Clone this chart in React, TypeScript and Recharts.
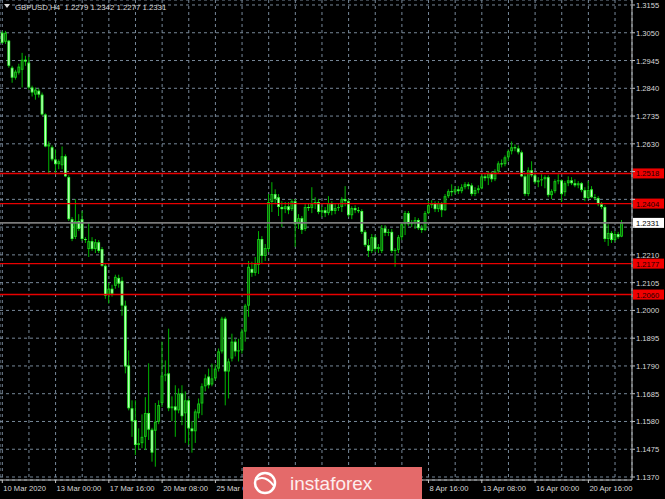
import React from "react";
import { ComposedChart, Bar, XAxis, YAxis, CartesianGrid, ReferenceLine } from "recharts";

// GBPUSD H4 candles, 10 Mar 2020 08:00 onwards
const opens = [
  1.3050, 1.3016, 1.3020, 1.2918, 1.2880, 1.2899, 1.2910, 1.2948, 1.2937, 1.2843,
  1.2816, 1.2831, 1.2816, 1.2741, 1.2620, 1.2617, 1.2571, 1.2553, 1.2549, 1.2583,
  1.2504, 1.2345, 1.2278, 1.2338, 1.2345, 1.2270, 1.2232, 1.2262, 1.2232, 1.2258,
  1.2232, 1.2169, 1.2059, 1.2082, 1.2093, 1.2123, 1.2112, 1.2018, 1.1792, 1.1630,
  1.1585, 1.1491, 1.1498, 1.1522, 1.1612, 1.1549, 1.1545, 1.1579, 1.1650, 1.1754,
  1.1762, 1.1630, 1.1637, 1.1622, 1.1686, 1.1611, 1.1660, 1.1554, 1.1543, 1.1611,
  1.1648, 1.1713, 1.1750, 1.1720, 1.1743, 1.1780, 1.1845, 1.1969, 1.1769, 1.1818,
  1.1882, 1.1845, 1.1849, 1.1920, 1.2018, 1.2157, 1.2142, 1.2172, 1.2270, 1.2206,
  1.2232, 1.2410, 1.2440, 1.2428, 1.2391, 1.2383, 1.2394, 1.2383, 1.2413, 1.2326,
  1.2349, 1.2308, 1.2391, 1.2387, 1.2402, 1.2410, 1.2372, 1.2379, 1.2368, 1.2406,
  1.2376, 1.2387, 1.2391, 1.2421, 1.2413, 1.2360, 1.2387, 1.2379, 1.2376, 1.2297,
  1.2247, 1.2225, 1.2277, 1.2232, 1.2225, 1.2311, 1.2293, 1.2297, 1.2225, 1.2229,
  1.2277, 1.2326, 1.2368, 1.2326, 1.2330, 1.2342, 1.2311, 1.2304, 1.2368, 1.2398,
  1.2406, 1.2383, 1.2406, 1.2379, 1.2432, 1.2451, 1.2447, 1.2458, 1.2451, 1.2466,
  1.2477, 1.2473, 1.2440, 1.2455, 1.2462, 1.2507, 1.2500, 1.2519, 1.2496, 1.2526,
  1.2556, 1.2553, 1.2579, 1.2602, 1.2617, 1.2613, 1.2598, 1.2507, 1.2440, 1.2530,
  1.2511, 1.2485, 1.2492, 1.2496, 1.2504, 1.2436, 1.2451, 1.2489, 1.2492, 1.2447,
  1.2481, 1.2492, 1.2481, 1.2473, 1.2481, 1.2455, 1.2425, 1.2458, 1.2428, 1.2425,
  1.2402, 1.2391, 1.2270, 1.2293, 1.2266, 1.2289, 1.2279,
];
const highs = [
  1.3057, 1.3057, 1.3023, 1.2925, 1.2910, 1.2933, 1.2974, 1.2963, 1.2959, 1.2850,
  1.2843, 1.2839, 1.2824, 1.2745, 1.2639, 1.2624, 1.2609, 1.2571, 1.2620, 1.2590,
  1.2511, 1.2353, 1.2421, 1.2364, 1.2376, 1.2277, 1.2330, 1.2277, 1.2270, 1.2266,
  1.2240, 1.2176, 1.2104, 1.2097, 1.2135, 1.2135, 1.2127, 1.2037, 1.1849, 1.1660,
  1.1660, 1.1554, 1.1607, 1.1672, 1.1800, 1.1556, 1.1650, 1.1660, 1.1882, 1.1811,
  1.1931, 1.1675, 1.1717, 1.1705, 1.1717, 1.1694, 1.1667, 1.1581, 1.1626, 1.1667,
  1.1724, 1.1758, 1.1780, 1.1799, 1.1796, 1.1856, 1.1976, 1.1976, 1.1818, 1.1912,
  1.1893, 1.1893, 1.1931, 1.2025, 1.2187, 1.2184, 1.2202, 1.2300, 1.2281, 1.2251,
  1.2440, 1.2485, 1.2458, 1.2440, 1.2413, 1.2410, 1.2410, 1.2421, 1.2421, 1.2364,
  1.2357, 1.2402, 1.2406, 1.2466, 1.2428, 1.2421, 1.2394, 1.2391, 1.2432, 1.2413,
  1.2402, 1.2406, 1.2428, 1.2470, 1.2421, 1.2394, 1.2398, 1.2391, 1.2383, 1.2304,
  1.2270, 1.2289, 1.2285, 1.2251, 1.2323, 1.2323, 1.2308, 1.2308, 1.2236, 1.2285,
  1.2334, 1.2376, 1.2376, 1.2342, 1.2353, 1.2349, 1.2323, 1.2376, 1.2413, 1.2417,
  1.2413, 1.2413, 1.2410, 1.2440, 1.2458, 1.2477, 1.2470, 1.2470, 1.2477, 1.2485,
  1.2485, 1.2481, 1.2466, 1.2473, 1.2515, 1.2519, 1.2526, 1.2526, 1.2534, 1.2564,
  1.2571, 1.2586, 1.2609, 1.2639, 1.2628, 1.2624, 1.2605, 1.2519, 1.2541, 1.2564,
  1.2522, 1.2504, 1.2515, 1.2511, 1.2511, 1.2458, 1.2496, 1.2515, 1.2496, 1.2489,
  1.2507, 1.2504, 1.2496, 1.2489, 1.2485, 1.2466, 1.2489, 1.2470, 1.2440, 1.2432,
  1.2410, 1.2398, 1.2326, 1.2300, 1.2300, 1.2297, 1.2342,
];
const lows = [
  1.3008, 1.3008, 1.2918, 1.2861, 1.2873, 1.2892, 1.2843, 1.2925, 1.2835, 1.2809,
  1.2797, 1.2805, 1.2737, 1.2617, 1.2515, 1.2564, 1.2515, 1.2534, 1.2534, 1.2504,
  1.2338, 1.2262, 1.2270, 1.2300, 1.2262, 1.2255, 1.2202, 1.2225, 1.2217, 1.2217,
  1.2165, 1.2044, 1.2026, 1.2052, 1.2082, 1.2086, 1.1980, 1.1762, 1.1622, 1.1522,
  1.1453, 1.1472, 1.1479, 1.1472, 1.1510, 1.1428, 1.1409, 1.1570, 1.1635, 1.1732,
  1.1619, 1.1581, 1.1522, 1.1611, 1.1566, 1.1499, 1.1491, 1.1462, 1.1499, 1.1592,
  1.1604, 1.1694, 1.1705, 1.1713, 1.1735, 1.1769, 1.1837, 1.1641, 1.1667, 1.1807,
  1.1826, 1.1807, 1.1837, 1.1882, 1.1976, 1.2127, 1.2131, 1.2138, 1.2176, 1.2187,
  1.2221, 1.2372, 1.2402, 1.2357, 1.2315, 1.2368, 1.2364, 1.2376, 1.2240, 1.2308,
  1.2289, 1.2300, 1.2376, 1.2368, 1.2383, 1.2364, 1.2353, 1.2353, 1.2360, 1.2360,
  1.2364, 1.2376, 1.2372, 1.2394, 1.2353, 1.2345, 1.2368, 1.2368, 1.2289, 1.2240,
  1.2202, 1.2217, 1.2221, 1.2217, 1.2217, 1.2281, 1.2281, 1.2217, 1.2165, 1.2217,
  1.2266, 1.2285, 1.2319, 1.2315, 1.2308, 1.2304, 1.2293, 1.2300, 1.2364, 1.2387,
  1.2372, 1.2372, 1.2353, 1.2376, 1.2425, 1.2432, 1.2440, 1.2440, 1.2443, 1.2458,
  1.2458, 1.2432, 1.2432, 1.2443, 1.2458, 1.2489, 1.2474, 1.2485, 1.2489, 1.2519,
  1.2541, 1.2545, 1.2564, 1.2590, 1.2602, 1.2590, 1.2504, 1.2432, 1.2432, 1.2504,
  1.2477, 1.2466, 1.2470, 1.2462, 1.2428, 1.2421, 1.2443, 1.2477, 1.2410, 1.2432,
  1.2470, 1.2474, 1.2466, 1.2462, 1.2447, 1.2413, 1.2421, 1.2425, 1.2417, 1.2394,
  1.2383, 1.2259, 1.2244, 1.2255, 1.2259, 1.2270, 1.2277,
];
const closes = [
  1.3012, 1.3050, 1.2925, 1.2880, 1.2903, 1.2922, 1.2948, 1.2941, 1.2843, 1.2824,
  1.2835, 1.2816, 1.2741, 1.2620, 1.2628, 1.2571, 1.2553, 1.2564, 1.2583, 1.2507,
  1.2345, 1.2270, 1.2338, 1.2308, 1.2270, 1.2266, 1.2262, 1.2232, 1.2258, 1.2225,
  1.2169, 1.2056, 1.2082, 1.2063, 1.2127, 1.2101, 1.2018, 1.1788, 1.1630, 1.1581,
  1.1491, 1.1498, 1.1522, 1.1612, 1.1549, 1.1462, 1.1579, 1.1642, 1.1754, 1.1758,
  1.1630, 1.1637, 1.1622, 1.1686, 1.1600, 1.1660, 1.1554, 1.1543, 1.1618, 1.1648,
  1.1713, 1.1743, 1.1717, 1.1743, 1.1780, 1.1845, 1.1969, 1.1769, 1.1807, 1.1882,
  1.1845, 1.1849, 1.1920, 1.2018, 1.2165, 1.2142, 1.2176, 1.2270, 1.2206, 1.2236,
  1.2410, 1.2440, 1.2421, 1.2391, 1.2383, 1.2394, 1.2379, 1.2413, 1.2326, 1.2349,
  1.2304, 1.2391, 1.2387, 1.2402, 1.2410, 1.2372, 1.2379, 1.2368, 1.2406, 1.2376,
  1.2387, 1.2391, 1.2421, 1.2413, 1.2360, 1.2387, 1.2379, 1.2376, 1.2297, 1.2247,
  1.2225, 1.2277, 1.2232, 1.2240, 1.2311, 1.2293, 1.2297, 1.2225, 1.2229, 1.2277,
  1.2326, 1.2368, 1.2326, 1.2330, 1.2342, 1.2311, 1.2304, 1.2368, 1.2398, 1.2406,
  1.2383, 1.2406, 1.2379, 1.2432, 1.2451, 1.2447, 1.2458, 1.2451, 1.2466, 1.2477,
  1.2470, 1.2440, 1.2455, 1.2462, 1.2507, 1.2500, 1.2519, 1.2496, 1.2526, 1.2556,
  1.2553, 1.2579, 1.2602, 1.2617, 1.2613, 1.2598, 1.2507, 1.2440, 1.2530, 1.2511,
  1.2485, 1.2492, 1.2496, 1.2504, 1.2436, 1.2451, 1.2489, 1.2492, 1.2440, 1.2481,
  1.2492, 1.2481, 1.2473, 1.2481, 1.2455, 1.2425, 1.2455, 1.2428, 1.2425, 1.2402,
  1.2391, 1.2270, 1.2293, 1.2266, 1.2289, 1.2277, 1.2331,
];

// one label every 16 bars, first one on bar 0 (the ones under the banner are left blank)
const timeLabels = [
  "10 Mar 2020", "13 Mar 00:00", "17 Mar 16:00", "20 Mar 08:00", "25 Mar 00:00", "",
  "", "", "8 Apr 16:00", "13 Apr 08:00", "16 Apr 00:00", "20 Apr 16:00",
];
const priceTicks = [
  1.1370, 1.1475, 1.1580, 1.1685, 1.1790, 1.1895, 1.2000, 1.2105, 1.2210,
  1.2315, 1.2420, 1.2525, 1.2630, 1.2735, 1.2840, 1.2945, 1.3050, 1.3155,
];
const levels = [1.2518, 1.2404, 1.2177, 1.2060];
const symbol = "GBPUSD,H4";
const brand = "instaforex";

const FONT = "'Liberation Sans', Arial, sans-serif";
const W = 665;
const H = 499;

const rows = opens.map((o, i) => ({
  idx: i,
  open: o,
  high: highs[i],
  low: lows[i],
  close: closes[i],
  range: [lows[i], highs[i]],
}));
const last = rows[rows.length - 1];
const gridBars = Array.from({ length: 24 }, (_, k) => k * 8);
// prices that carry a tag on the scale; plain tick labels next to them are covered
const tagged = [...levels, last.close];

function Candle(props: any) {
  const { x, y, width, height, payload } = props;
  if (x == null || y == null) return null;
  const { open, close, high, low } = payload;
  const top = Math.min(y, y + height);
  const h = Math.abs(height);
  const span = high - low || 1e-9;
  const toY = (p: number) => top + ((high - p) / span) * h;
  const cx = x + width / 2;
  const bull = close >= open;
  const bTop = toY(Math.max(open, close));
  const bH = Math.max(1, toY(Math.min(open, close)) - bTop);
  return (
    <g>
      <rect x={cx - 0.5} y={top} width={1} height={Math.max(1, h)} fill="#00b400" />
      <rect x={cx - 1.4} y={bTop} width={2.8} height={bH} fill={bull ? "#14c814" : "#3cff3c"} />
      {bH > 2 && (
        <rect x={cx - 0.5} y={bTop + 1} width={1} height={bH - 2} fill={bull ? "#0a5a0a" : "#d2ffd2"} />
      )}
    </g>
  );
}

function TimeTick({ x, y, payload }: any) {
  const i = payload.value;
  const text = i % 16 === 0 ? timeLabels[i / 16] : "";
  if (!text) return <g />;
  return (
    <g>
      <line x1={x} x2={x} y1={y} y2={y + 3} stroke="#c0c0c0" />
      <text x={x + 1} y={y + 11} fontSize={7.6} fontFamily={FONT} fill="#d8d8d8">
        {text}
      </text>
    </g>
  );
}

function PriceTick({ x, y, payload }: any) {
  const covered = tagged.some((p) => Math.abs(p - payload.value) < 0.0025);
  return (
    <g>
      <line x1={x} x2={x + 3} y1={y} y2={y} stroke="#c0c0c0" />
      {!covered && (
        <text x={x + 4} y={y + 3} fontSize={7.6} fontFamily={FONT} fill="#d8d8d8">
          {payload.value.toFixed(4)}
        </text>
      )}
    </g>
  );
}

function PriceTag({ viewBox, value, bg, fg }: any) {
  if (!viewBox) return null;
  const x = viewBox.x + viewBox.width + 1;
  const y = viewBox.y;
  return (
    <g>
      <rect x={x} y={y - 5} width={31} height={10} fill={bg} />
      <text x={x + 3} y={y + 3} fontSize={7.6} fontFamily={FONT} fill={fg}>
        {value.toFixed(4)}
      </text>
    </g>
  );
}

export default function App() {
  const title = `${symbol}  ${last.open.toFixed(4)} ${last.high.toFixed(4)} ${last.low.toFixed(4)} ${last.close.toFixed(4)}`;
  return (
    <div style={{ position: "absolute", left: 0, top: 0, width: W, height: H, background: "#000", overflow: "hidden" }}>
      <ComposedChart width={W} height={H} data={rows} margin={{ top: 0, right: 0, bottom: 0, left: 0 }}>
        <CartesianGrid stroke="#778899" strokeDasharray="3 3" />
        <XAxis
          type="number"
          dataKey="idx"
          domain={[-0.69, 189.1]}
          allowDataOverflow
          ticks={gridBars}
          interval={0}
          height={19}
          tickSize={0}
          tickMargin={0}
          tickLine={false}
          axisLine={{ stroke: "#c0c0c0" }}
          tick={<TimeTick />}
        />
        <YAxis
          type="number"
          orientation="right"
          domain={[1.13587, 1.31739]}
          allowDataOverflow
          ticks={priceTicks}
          interval={0}
          width={33}
          tickSize={0}
          tickMargin={0}
          tickLine={false}
          axisLine={{ stroke: "#c0c0c0" }}
          tick={<PriceTick />}
        />
        <Bar dataKey="range" barSize={3} shape={<Candle />} isAnimationActive={false} />
        <ReferenceLine
          y={last.close}
          stroke="#7a7a7a"
          strokeWidth={1.6}
          label={<PriceTag value={last.close} bg="#ffffff" fg="#000000" />}
        />
        {levels.map((lv) => (
          <ReferenceLine
            key={lv}
            y={lv}
            stroke="#e80000"
            strokeWidth={1.4}
            label={<PriceTag value={lv} bg="#f00000" fg="#1a0000" />}
          />
        ))}
      </ComposedChart>
      <svg width={W} height={H} style={{ position: "absolute", left: 0, top: 0, pointerEvents: "none" }}>
        <polygon points="4,4 10,4 7,8" fill="#d8d8d8" />
        <text x={15} y={10} fontSize={7.8} fontFamily={FONT} fill="#d8d8d8" style={{ whiteSpace: "pre" }}>
          {title}
        </text>
        <rect x={243} y={467} width={179} height={32} fill="#e46a6a" />
        <circle cx={265} cy={483} r={10} fill="none" stroke="#ffffff" strokeWidth={2.5} />
        <path d="M256,480 Q265,474 274,486" fill="none" stroke="#ffffff" strokeWidth={2} />
        <text x={290} y={490} fontSize={19} fontFamily={FONT} fill="#fdeeee">
          {brand}
        </text>
      </svg>
    </div>
  );
}
